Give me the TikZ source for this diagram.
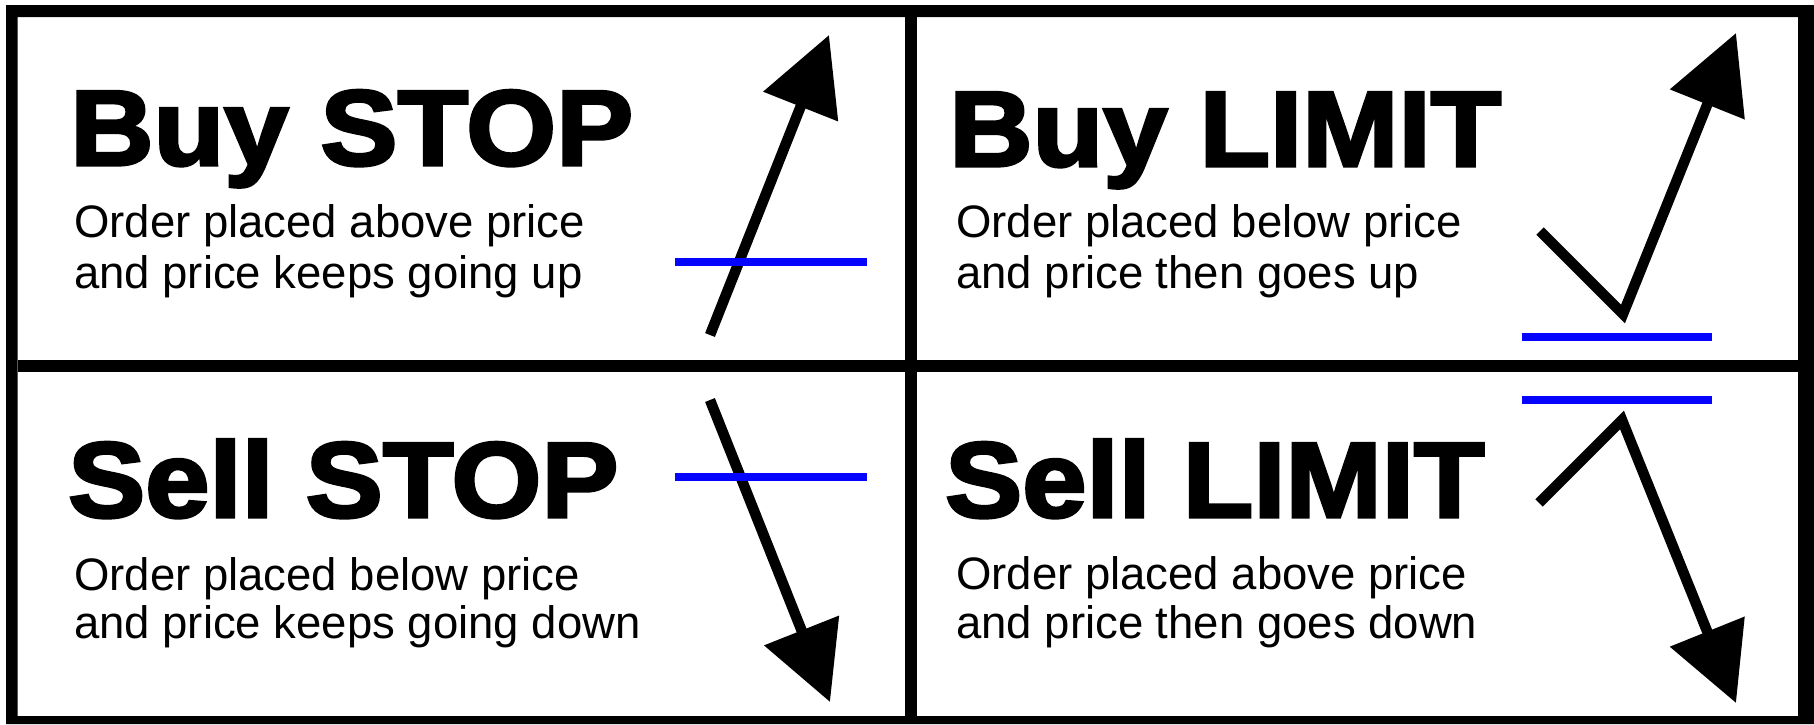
\documentclass[tikz,border=0pt]{standalone}
\usepackage{fontspec}
\setmainfont{Liberation Sans}
\newfontfamily\titlefont[FakeStretch=1.08,FakeBold=3]{Liberation Sans Bold}
\usetikzlibrary{arrows.meta}
\definecolor{lineblue}{RGB}{5,5,255}
\tikzset{
  divider/.style={line width=12pt, draw=black},
  title/.style={anchor=base west, inner sep=0pt, font=\titlefont\fontsize{107}{107}\selectfont},
  desc/.style={anchor=base west, inner sep=0pt, font=\fontsize{45.5}{50}\selectfont},
  pricepath/.style={line width=10.5pt, line join=miter, -{Triangle[length=77pt,width=78pt]}},
  level/.style={line width=8pt, draw=lineblue}
}
\begin{document}
\begin{tikzpicture}[x=1pt,y=-1pt]
\useasboundingbox (0,0) rectangle (1814,724);
\fill[white] (0,0) rectangle (1814,724);
% frame
\fill[black, even odd rule] (6,5) rectangle (1814,724) (17.5,17) rectangle (1798,716);
\coordinate (vt) at (911,17);
\coordinate (vb) at (911,716);
\coordinate (hl) at (17.5,366);
\coordinate (hr) at (1798,366);
\draw[divider] (vt) -- (vb);
\draw[divider] (hl) -- (hr);

% Buy STOP
\node[title] (t1) at (70,165) {Buy STOP};
\node[desc] (d1a) at (74,237) {Order placed above price};
\node[desc] (d1b) at (74,288) {and price keeps going up};
\coordinate (a1s) at (710,335);
\coordinate (a1e) at (829,35);
\draw[pricepath] (a1s) -- (a1e);
\coordinate (b1l) at (675,261.5);
\coordinate (b1r) at (867,261.5);
\draw[level] (b1l) -- (b1r);

% Buy LIMIT
\node[title] (t2) at (949,166) {Buy LIMIT};
\node[desc] (d2a) at (956,237) {Order placed below price};
\node[desc] (d2b) at (956,288) {and price then goes up};
\coordinate (a2s) at (1540,231);
\coordinate (a2v) at (1623,314);
\coordinate (a2e) at (1736,33);
\draw[pricepath] (a2s) -- (a2v) -- (a2e);
\coordinate (b2l) at (1522,336.5);
\coordinate (b2r) at (1712,336.5);
\draw[level] (b2l) -- (b2r);

% Sell STOP
\node[title] (t3) at (68,517) {Sell STOP};
\node[desc] (d3a) at (74,590) {Order placed below price};
\node[desc] (d3b) at (74,638) {and price keeps going down};
\coordinate (a3s) at (710,400);
\coordinate (a3e) at (830,702);
\draw[pricepath] (a3s) -- (a3e);
\coordinate (b3l) at (675,477);
\coordinate (b3r) at (867,477);
\draw[level] (b3l) -- (b3r);

% Sell LIMIT
\node[title] (t4) at (945,517) {Sell LIMIT};
\node[desc] (d4a) at (956,589) {Order placed above price};
\node[desc] (d4b) at (956,638) {and price then goes down};
\coordinate (a4s) at (1539,503);
\coordinate (a4p) at (1622,420);
\coordinate (a4e) at (1736,703);
\draw[pricepath] (a4s) -- (a4p) -- (a4e);
\coordinate (b4l) at (1522,399.5);
\coordinate (b4r) at (1712,399.5);
\draw[level] (b4l) -- (b4r);
\end{tikzpicture}
\end{document}
